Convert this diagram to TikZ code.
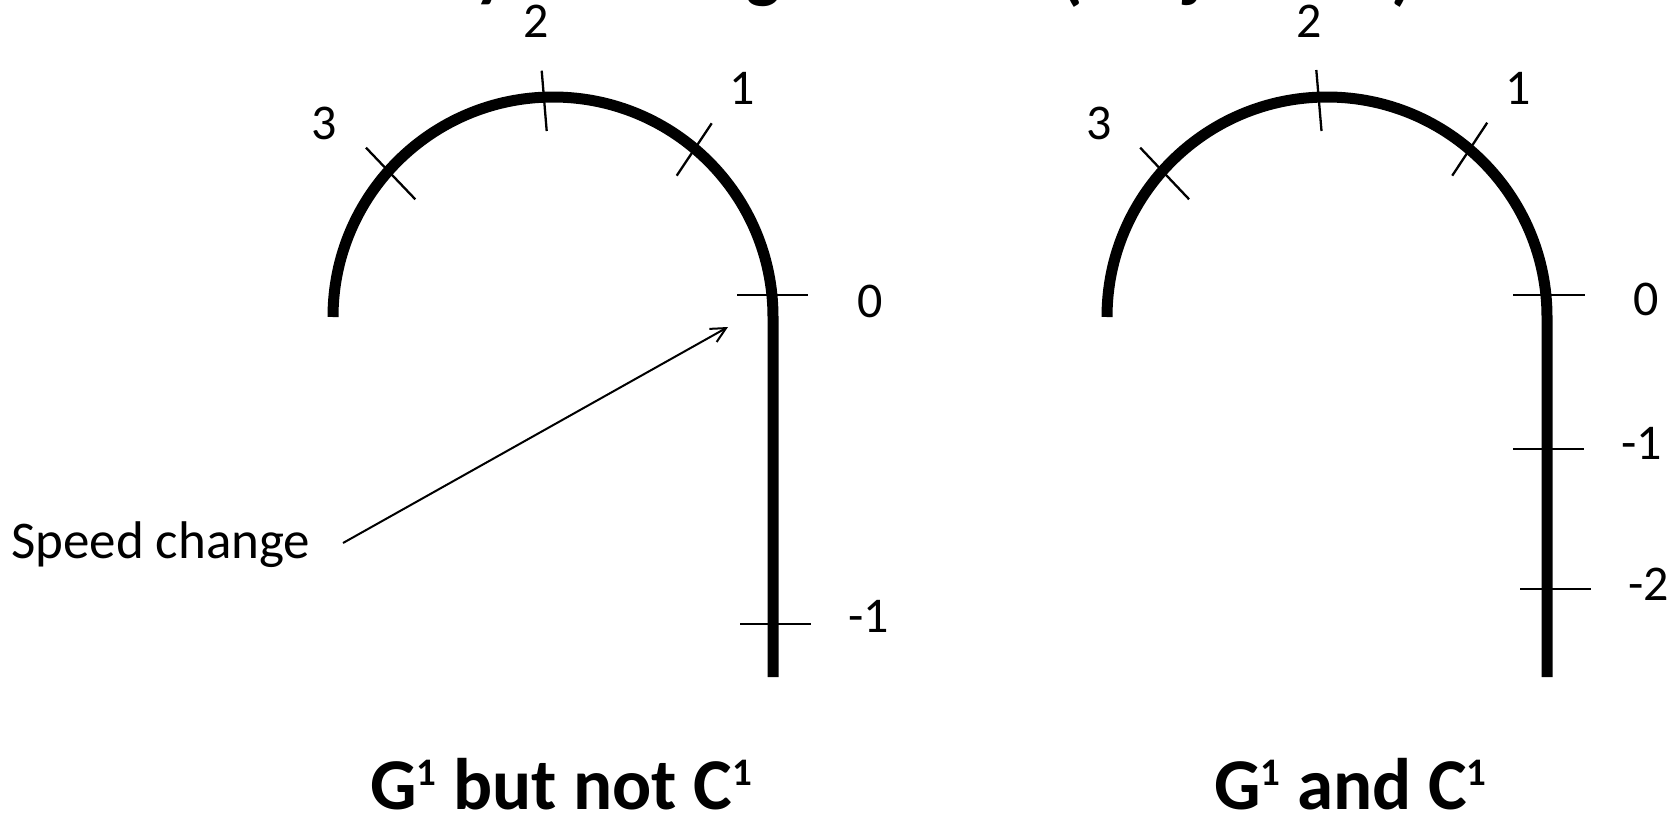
\documentclass[tikz,border=0pt]{standalone}
\usepackage{fontspec}
\setmainfont{Carlito}
\usetikzlibrary{arrows.meta}
\newcommand{\supone}{\raisebox{24pt}{\fontsize{39}{42}\selectfont 1}}
\tikzset{
  curve/.style={line width=11pt},
  tickmark/.style={line width=2.6pt},
  arctick/.style={line width=2.3pt},
  lbl/.style={inner sep=0pt, font=\fontsize{50}{60}\selectfont},
  caption/.style={inner sep=0pt, anchor=base, font=\fontsize{73}{86}\selectfont\bfseries},
  frag/.style={inner sep=0pt, anchor=base, font=\fontsize{72}{86}\selectfont\bfseries},
  pointer/.style={line width=2pt, -{Straight Barb[length=15pt,width=15pt]}}
}
\begin{document}
\begin{tikzpicture}[x=1pt,y=-1pt]
\useasboundingbox (0,0) rectangle (1670,817);
\clip (0,0) rectangle (1670,817);

% clipped fragments of the title above the picture
\node[frag] (fy) at (492,-7) {y};
\node[frag] (fg) at (764,-6) {g};
\node[frag] (fl) at (1072,-4) {(};
\node[frag] (fj) at (1194,-7) {j};
\node[frag] (fr) at (1403,-4) {)};

% ---------- left curve ----------
\draw[curve] (333,317) arc[start angle=180, end angle=0, radius=220pt] -- (773,677);
\draw[arctick] (676.7,175.7) -- (711.7,123.3);
\draw[arctick] (541.7,70.7) -- (546.7,131);
\draw[arctick] (366,147.7) -- (415.3,199.3);
\draw[tickmark] (737,295) -- (808,295);
\draw[tickmark] (740,624) -- (811,624);
\node[lbl] (l3) at (324,123.5) {3};
\node[lbl] (l2) at (536,21.5) {2};
\node[lbl] (l1) at (742.5,88) {1};
\node[lbl] (l0) at (870,301) {0};
\node[lbl] (lm1) at (869,616) {-1};

\node[lbl, anchor=base west, font=\fontsize{53}{60}\selectfont] (speed) at (11,558) {Speed change};
\coordinate (sctail) at (343,543);
\coordinate (schead) at (728,327);
\draw[pointer] (sctail) -- (schead);

\node[caption] (capL) at (561,809) {G\supone{} but not C\supone};

% ---------- right curve ----------
\draw[curve] (1107,317) arc[start angle=180, end angle=0, radius=220pt] -- (1547,677);
\draw[arctick] (1487.2,122.7) -- (1452.2,175.7);
\draw[arctick] (1316.3,70) -- (1321.5,131);
\draw[arctick] (1140.2,147.7) -- (1189.1,199.3);
\draw[tickmark] (1513,295) -- (1585,295);
\draw[tickmark] (1513,449) -- (1584,449);
\draw[tickmark] (1520,589) -- (1591,589);
\node[lbl] (r3) at (1098.7,123.5) {3};
\node[lbl] (r2) at (1309,21.5) {2};
\node[lbl] (r1) at (1518,88) {1};
\node[lbl] (r0) at (1646,299) {0};
\node[lbl] (rm1) at (1642,443) {-1};
\node[lbl] (rm2) at (1649,584) {-2};

\node[caption] (capR) at (1350.5,809) {G\supone{} and C\supone};
\end{tikzpicture}
\end{document}
